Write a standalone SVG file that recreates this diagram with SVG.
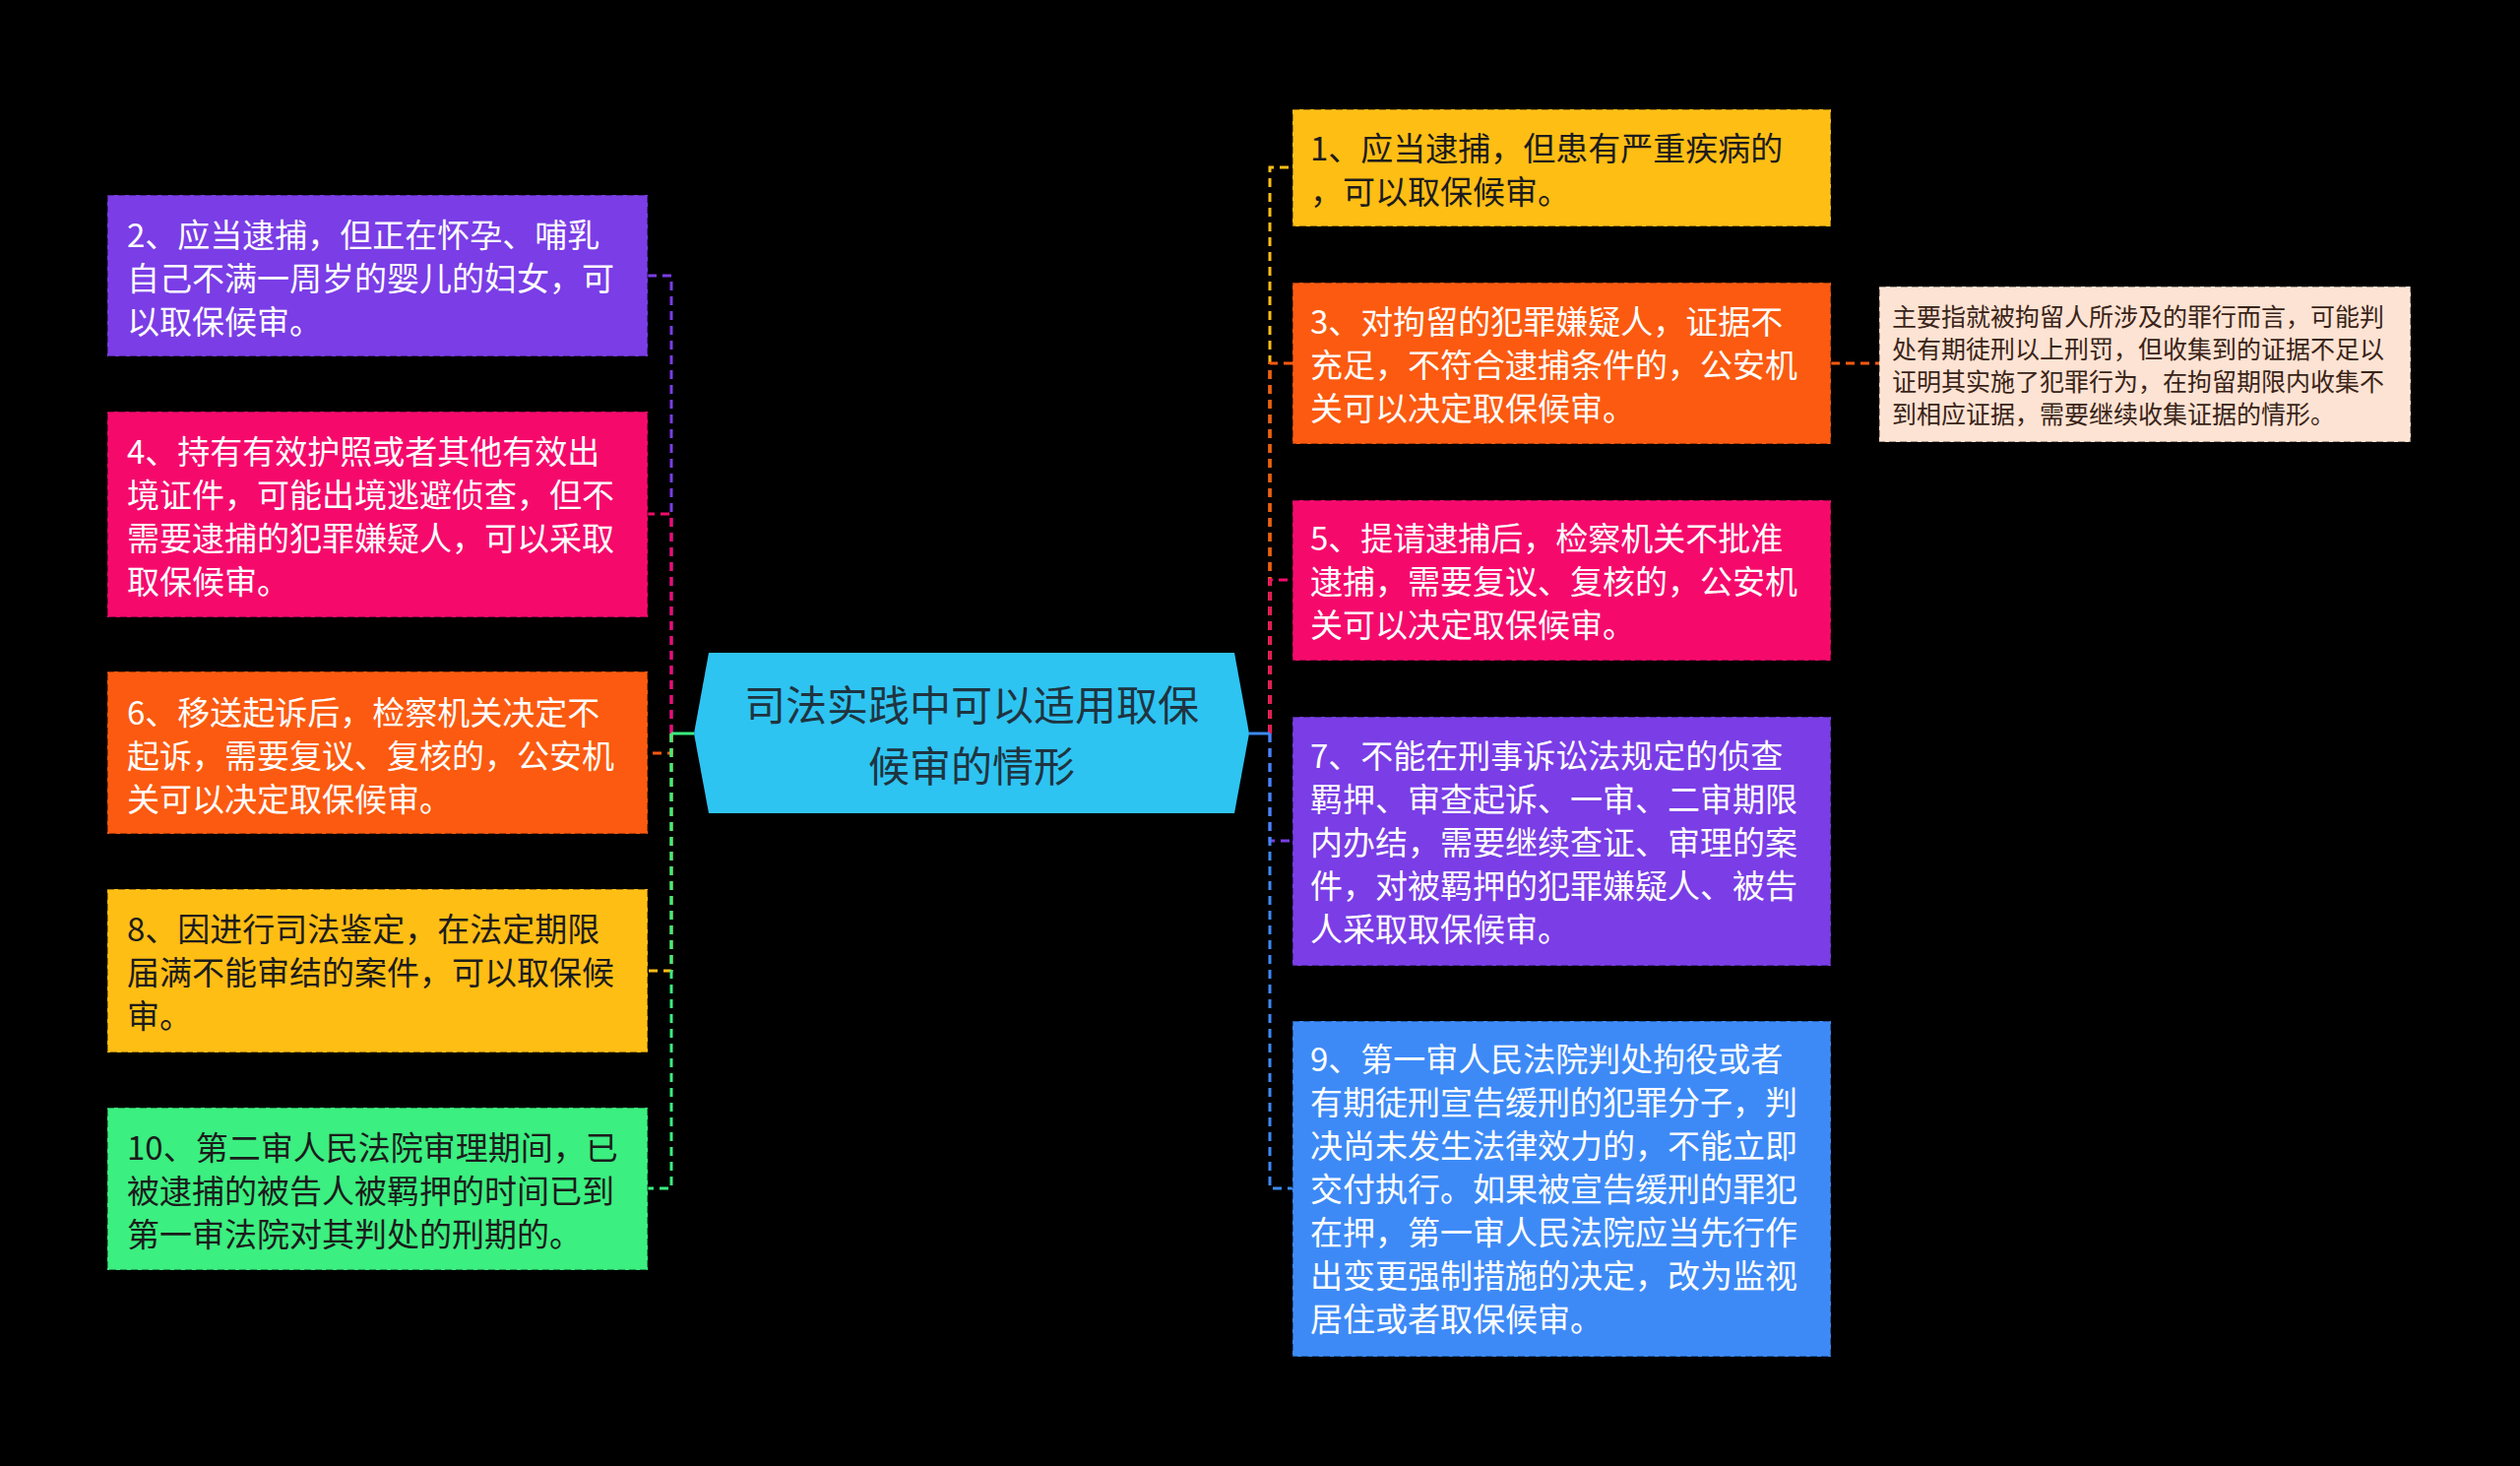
<svg xmlns="http://www.w3.org/2000/svg" width="2560" height="1489" viewBox="0 0 2560 1489">
<style>
.bx{stroke:rgba(0,0,0,0.35);stroke-width:2;stroke-dasharray:7 4}
.t{font-family:"Noto Sans CJK SC","Noto Sans",sans-serif;font-size:33px;dominant-baseline:central}
.w{fill:#ffffff}
.d{fill:#1c1c1c}
.n{font-family:"Noto Sans CJK SC","Noto Sans",sans-serif;font-size:25px;dominant-baseline:central;fill:#3a2418}
.c{fill:none;stroke-width:3;stroke-dasharray:9 6}
.ct{font-family:"Noto Sans CJK SC","Noto Sans",sans-serif;font-size:42px;fill:#1f3440;dominant-baseline:central;text-anchor:middle}
</style>
<rect x="0" y="0" width="2560" height="1489" fill="#000000"/>
<g id="connectors">
<path class="c" stroke="#7a3de6" d="M682 745V280H658"/>
<path class="c" stroke="#f50a6c" d="M682 745V522H658"/>
<path class="c" stroke="#fb5a10" d="M682 745V765H658"/>
<path class="c" stroke="#ffbe14" d="M682 745V986H658"/>
<path class="c" stroke="#3bef80" d="M682 745V1207H658"/>
<path fill="none" stroke="#3bef80" stroke-width="3" d="M705 745H682"/>
<path class="c" stroke="#ffbe14" d="M1290 745V170H1313"/>
<path class="c" stroke="#fb5a10" d="M1290 745V369H1313"/>
<path class="c" stroke="#f50a6c" d="M1290 745V589H1313"/>
<path class="c" stroke="#7a3de6" d="M1290 745V854H1313"/>
<path class="c" stroke="#3d8af7" d="M1290 745V1207H1313"/>
<path fill="none" stroke="#3d8af7" stroke-width="3" d="M1269 745H1290"/>
<path class="c" stroke="#fb5a10" d="M1860 369H1909"/>
</g>
<g id="center">
<polygon points="720,663 1254,663 1269,745 1254,826 720,826 705,745" fill="#2ec4f2"/>
<text class="ct" x="987" y="713">司法实践中可以适用取保</text>
<text class="ct" x="987" y="775">候审的情形</text>
</g>
<g id="node2">
<rect class="bx" x="109" y="198" width="549" height="164" fill="#7a3de6"/>
<text class="t w" x="129" y="237">2、应当逮捕，但正在怀孕、哺乳</text>
<text class="t w" x="129" y="281">自己不满一周岁的婴儿的妇女，可</text>
<text class="t w" x="129" y="325">以取保候审。</text>
</g>
<g id="node4">
<rect class="bx" x="109" y="418" width="549" height="209" fill="#f50a6c"/>
<text class="t w" x="129" y="457">4、持有有效护照或者其他有效出</text>
<text class="t w" x="129" y="501">境证件，可能出境逃避侦查，但不</text>
<text class="t w" x="129" y="545">需要逮捕的犯罪嫌疑人，可以采取</text>
<text class="t w" x="129" y="589">取保候审。</text>
</g>
<g id="node6">
<rect class="bx" x="109" y="682" width="549" height="165" fill="#fb5a10"/>
<text class="t w" x="129" y="722">6、移送起诉后，检察机关决定不</text>
<text class="t w" x="129" y="766">起诉，需要复议、复核的，公安机</text>
<text class="t w" x="129" y="810">关可以决定取保候审。</text>
</g>
<g id="node8">
<rect class="bx" x="109" y="903" width="549" height="166" fill="#ffbe14"/>
<text class="t d" x="129" y="942">8、因进行司法鉴定，在法定期限</text>
<text class="t d" x="129" y="986">届满不能审结的案件，可以取保候</text>
<text class="t d" x="129" y="1030">审。</text>
</g>
<g id="node10">
<rect class="bx" x="109" y="1125" width="549" height="165" fill="#3bef80"/>
<text class="t d" x="129" y="1164">10、第二审人民法院审理期间，已</text>
<text class="t d" x="129" y="1208">被逮捕的被告人被羁押的时间已到</text>
<text class="t d" x="129" y="1252">第一审法院对其判处的刑期的。</text>
</g>
<g id="node1">
<rect class="bx" x="1313" y="111" width="547" height="119" fill="#ffbe14"/>
<text class="t d" x="1331" y="149">1、应当逮捕，但患有严重疾病的</text>
<text class="t d" x="1331" y="193">，可以取保候审。</text>
</g>
<g id="node3">
<rect class="bx" x="1313" y="287" width="547" height="164" fill="#fb5a10"/>
<text class="t w" x="1331" y="325">3、对拘留的犯罪嫌疑人，证据不</text>
<text class="t w" x="1331" y="369">充足，不符合逮捕条件的，公安机</text>
<text class="t w" x="1331" y="413">关可以决定取保候审。</text>
</g>
<g id="note3">
<rect class="bx" x="1909" y="291" width="540" height="158" fill="#fde3d3"/>
<text class="n" x="1922" y="320">主要指就被拘留人所涉及的罪行而言，可能判</text>
<text class="n" x="1922" y="353">处有期徒刑以上刑罚，但收集到的证据不足以</text>
<text class="n" x="1922" y="386">证明其实施了犯罪行为，在拘留期限内收集不</text>
<text class="n" x="1922" y="419">到相应证据，需要继续收集证据的情形。</text>
</g>
<g id="node5">
<rect class="bx" x="1313" y="508" width="547" height="163" fill="#f50a6c"/>
<text class="t w" x="1331" y="545">5、提请逮捕后，检察机关不批准</text>
<text class="t w" x="1331" y="589">逮捕，需要复议、复核的，公安机</text>
<text class="t w" x="1331" y="633">关可以决定取保候审。</text>
</g>
<g id="node7">
<rect class="bx" x="1313" y="728" width="547" height="253" fill="#7a3de6"/>
<text class="t w" x="1331" y="766">7、不能在刑事诉讼法规定的侦查</text>
<text class="t w" x="1331" y="810">羁押、审查起诉、一审、二审期限</text>
<text class="t w" x="1331" y="854">内办结，需要继续查证、审理的案</text>
<text class="t w" x="1331" y="898">件，对被羁押的犯罪嫌疑人、被告</text>
<text class="t w" x="1331" y="942">人采取取保候审。</text>
</g>
<g id="node9">
<rect class="bx" x="1313" y="1037" width="547" height="341" fill="#3d8af7"/>
<text class="t w" x="1331" y="1074">9、第一审人民法院判处拘役或者</text>
<text class="t w" x="1331" y="1118">有期徒刑宣告缓刑的犯罪分子，判</text>
<text class="t w" x="1331" y="1162">决尚未发生法律效力的，不能立即</text>
<text class="t w" x="1331" y="1206">交付执行。如果被宣告缓刑的罪犯</text>
<text class="t w" x="1331" y="1250">在押，第一审人民法院应当先行作</text>
<text class="t w" x="1331" y="1294">出变更强制措施的决定，改为监视</text>
<text class="t w" x="1331" y="1338">居住或者取保候审。</text>
</g>
</svg>
